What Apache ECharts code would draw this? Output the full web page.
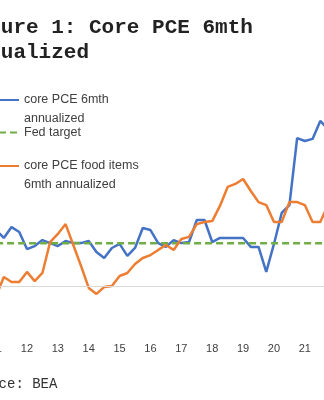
<!DOCTYPE html>
<html>
<head>
<meta charset="utf-8">
<script src="https://cdn.jsdelivr.net/npm/echarts@6/dist/echarts.min.js"></script>
<style>html,body{margin:0;padding:0;background:#fff}#c{width:324px;height:400px}</style>
</head>
<body>
<div id="c"></div>
<script>
// Quarterly categories 2011Q1 .. 2021Q4
const years = ['11','12','13','14','15','16','17','18','19','20','21'];
const quarters = [];
years.forEach(y => { for (let q = 1; q <= 4; q++) quarters.push(y + 'Q' + q); });
const yearTickLabels = years;

// core PCE 6mth annualized (%)
const corePCE = [2.62,2.25,2.76,2.53,1.73,1.87,2.15,2.01,1.87,2.11,2.01,2.01,2.11,1.59,1.31,1.78,1.97,1.41,1.78,2.72,2.62,2.01,1.83,2.15,2.01,2.06,3.09,3.09,2.06,2.25,2.25,2.25,2.25,1.83,1.83,0.66,1.97,3.42,3.79,6.93,6.79,6.89,7.73,7.35];
// core PCE food items 6mth annualized (%)
const foodPCE = [-0.47,0.42,0.19,0.19,0.66,0.23,0.61,2.06,2.44,2.90,1.92,0.94,-0.09,-0.37,-0.05,0.00,0.47,0.61,1.03,1.31,1.45,1.69,1.92,1.69,2.20,2.30,2.90,3.00,3.04,3.75,4.64,4.78,5.01,4.45,3.93,3.79,3.00,3.00,3.93,3.93,3.79,3.00,3.00,3.79];
// Fed target (%)
const fedTargetValue = 2;
const fedTarget = quarters.map(() => fedTargetValue);

const chart = echarts.init(document.getElementById('c'), null, {renderer: 'canvas'});
const legendText = {fontFamily: 'Liberation Sans', fontSize: 12.5, color: '#404040', lineHeight: 19};
const legendBase = {left: -2, padding: 0, itemWidth: 20, itemHeight: 6, itemStyle: {opacity: 0}, textStyle: legendText};
const firstLineOnIcon = name => '\u00a0\n' + name;
chart.setOption({
  animation: false,
  backgroundColor: '#fff',
  title: [{
    text: 'Figure 1: Core PCE 6mth\nannualized',
    left: -37, top: 15, padding: 0,
    textStyle: {fontFamily: 'Liberation Mono', fontWeight: 'bold', fontSize: 21, lineHeight: 25, color: '#222'}
  }, {
    text: 'Source: BEA',
    left: -35, top: 376, padding: 0,
    textStyle: {fontFamily: 'Liberation Mono', fontWeight: 'normal', fontSize: 14, lineHeight: 16, color: '#333'}
  }],
  legend: [
    Object.assign({}, legendBase, {data: ['core PCE 6mth\nannualized'], top: 71.5, formatter: firstLineOnIcon}),
    Object.assign({}, legendBase, {data: ['Fed target'], top: 123}),
    Object.assign({}, legendBase, {data: ['core PCE food items\n6mth annualized'], top: 137.5, formatter: firstLineOnIcon})
  ],
  grid: {left: -3.9, right: -4, top: 115.2, bottom: 71.3, containLabel: false, outerBoundsMode: 'none'},
  xAxis: {
    type: 'category', data: quarters, boundaryGap: false,
    axisLine: {show: false}, axisTick: {show: false}, splitLine: {show: false},
    axisLabel: {
      interval: 0, margin: 15, fontFamily: 'Liberation Sans', fontSize: 11, color: '#404040',
      formatter: (v, i) => (i % 4 === 0 ? yearTickLabels[i / 4] : '')
    }
  },
  yAxis: {type: 'value', min: -2, max: 8, show: false},
  series: [
    {name: 'core PCE 6mth\nannualized', type: 'line', data: corePCE, symbol: 'none',
     lineStyle: {color: '#4472C4', width: 2.5}, itemStyle: {color: '#4472C4'}},
    {name: 'Fed target', type: 'line', data: fedTarget, symbol: 'none',
     lineStyle: {color: '#70AD47', width: 2.5, type: [7, 4]}, itemStyle: {color: '#70AD47'},
     markLine: {silent: true, symbol: 'none', label: {show: false},
       lineStyle: {color: '#D9D9D9', width: 1, type: 'solid'}, data: [{yAxis: 0}]}},
    {name: 'core PCE food items\n6mth annualized', type: 'line', data: foodPCE, symbol: 'none',
     lineStyle: {color: '#ED7D31', width: 2.5}, itemStyle: {color: '#ED7D31'}}
  ]
});
</script>
</body>
</html>
